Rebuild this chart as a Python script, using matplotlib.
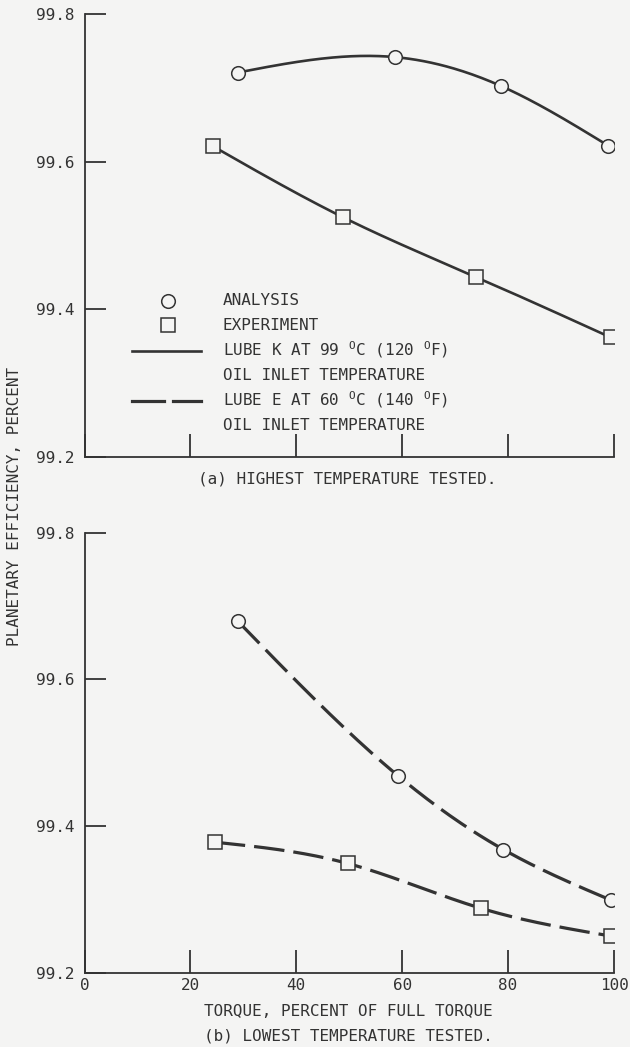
import numpy as np
import matplotlib
matplotlib.use("Agg")
import matplotlib.pyplot as plt
from matplotlib.lines import Line2D

plt.rcParams['font.family'] = ['DejaVu Sans Mono', 'DejaVu Sans']
plt.rcParams['mathtext.default'] = 'regular'
plt.rcParams['lines.scale_dashes'] = False

# ---------------- data ----------------
xticks = [0, 20, 40, 60, 80, 100]
yticks = [99.2, 99.4, 99.6, 99.8]

# (a) highest temperature tested -- lube K at 99 C
a_analysis_x = [28.9, 58.6, 78.6, 98.9]
a_analysis_y = [99.721, 99.742, 99.703, 99.622]
a_exp_x = [24.3, 48.8, 73.9, 99.4]
a_exp_y = [99.621, 99.525, 99.444, 99.362]

# (b) lowest temperature tested -- lube E at 60 C
b_analysis_x = [29.0, 59.3, 79.1, 99.4]
b_analysis_y = [99.679, 99.468, 99.368, 99.299]
b_exp_x = [24.6, 49.7, 74.8, 99.4]
b_exp_y = [99.378, 99.349, 99.288, 99.250]

ylabel = "PLANETARY EFFICIENCY, PERCENT"
xlabel = "TORQUE, PERCENT OF FULL TORQUE"
cap_a = "(a) HIGHEST TEMPERATURE TESTED."
cap_b = "(b) LOWEST TEMPERATURE TESTED."
legend_labels = ["ANALYSIS", "EXPERIMENT",
                 "LUBE K AT 99 $^O$C (120 $^O$F)", "OIL INLET TEMPERATURE",
                 "LUBE E AT 60 $^O$C (140 $^O$F)", "OIL INLET TEMPERATURE"]

# ---------------- helpers ----------------
def natural_spline(x, y, n=200):
    x = np.asarray(x, float); y = np.asarray(y, float)
    k = len(x); h = np.diff(x)
    A = np.zeros((k, k)); r = np.zeros(k)
    A[0, 0] = 1; A[-1, -1] = 1
    for i in range(1, k - 1):
        A[i, i - 1] = h[i - 1]; A[i, i] = 2 * (h[i - 1] + h[i]); A[i, i + 1] = h[i]
        r[i] = 6 * ((y[i + 1] - y[i]) / h[i] - (y[i] - y[i - 1]) / h[i - 1])
    M = np.linalg.solve(A, r)
    xs = np.linspace(x[0], x[-1], n)
    idx = np.clip(np.searchsorted(x, xs) - 1, 0, k - 2)
    x0, x1 = x[idx], x[idx + 1]; hh = x1 - x0
    t0 = x1 - xs; t1 = xs - x0
    ys = (M[idx] * t0**3 + M[idx + 1] * t1**3) / (6 * hh) \
        + (y[idx] / hh - M[idx] * hh / 6) * t0 + (y[idx + 1] / hh - M[idx + 1] * hh / 6) * t1
    return xs, ys

BG = '#f4f4f3'
INK = '#333333'
W, H = 630, 1047
fig = plt.figure(figsize=(W / 100, H / 100), dpi=100, facecolor=BG)

def px2fig(x, y):
    return x / W, 1 - y / H

x_left, x_right = 84.5, 614
axA = fig.add_axes([x_left / W, 1 - 457 / H, (x_right - x_left) / W, (457 - 14.3) / H])
axB = fig.add_axes([x_left / W, 1 - 972.7 / H, (x_right - x_left) / W, (972.7 - 532.7) / H])

solid_kw = dict(color=INK, lw=1.9, solid_capstyle='round', zorder=2)
dash_kw = dict(color=INK, lw=2.3, dashes=(22, 6.5), dash_capstyle='butt', zorder=2)
circ_kw = dict(ls='none', marker='o', ms=9.8, mfc=BG, mec=INK, mew=1.1, zorder=3)
sq_kw = dict(ls='none', marker='s', ms=9.8, mfc=BG, mec=INK, mew=1.1, zorder=3)

for ax in (axA, axB):
    ax.set_facecolor('none')
    ax.set_xlim(0, 100)
    ax.set_ylim(99.2, 99.8)
    for s in ('top', 'right'):
        ax.spines[s].set_visible(False)
    for s in ('left', 'bottom'):
        ax.spines[s].set_color(INK)
        ax.spines[s].set_linewidth(1.3)
    ax.set_yticks(yticks)
    ax.set_yticklabels([f"{v:.1f}" for v in yticks])
    ax.set_xticks(xticks)
    ax.tick_params(axis='y', direction='in', length=15, width=1.3, color=INK,
                   labelsize=11.5, labelcolor=INK, pad=7.3)
    ax.tick_params(axis='x', direction='in', length=16.5, width=1.3, color=INK,
                   labelsize=11.5, labelcolor=INK, pad=4)

axA.tick_params(axis='x', labelbottom=False)
axB.set_xticklabels([str(v) for v in xticks])

# panel (a)
xs, ys = natural_spline(a_analysis_x, a_analysis_y)
axA.plot(xs, ys, **solid_kw)
xs, ys = natural_spline(a_exp_x, a_exp_y)
axA.plot(xs, ys, **solid_kw)
axA.plot(a_analysis_x, a_analysis_y, **circ_kw)
axA.plot(a_exp_x, a_exp_y, **sq_kw)

# panel (b)
xs, ys = natural_spline(b_analysis_x, b_analysis_y)
axB.plot(xs, ys, **dash_kw)
xs, ys = natural_spline(b_exp_x, b_exp_y)
axB.plot(xs, ys, **dash_kw)
axB.plot(b_analysis_x, b_analysis_y, **circ_kw)
axB.plot(b_exp_x, b_exp_y, **sq_kw)

# legend (manual)
rows_y = [300.5, 325, 350, 375, 400, 425.5]
text_x = 223
for lab, ry in zip(legend_labels, rows_y):
    fx, fy = px2fig(text_x, ry)
    fig.text(fx, fy, lab, ha='left', va='center', fontsize=11.5, color=INK)

def fig_line(xp, yp, **kw):
    fx = [x / W for x in xp]; fy = [1 - y / H for y in yp]
    fig.add_artist(Line2D(fx, fy, transform=fig.transFigure, **kw))

fig_line([167.5], [300.5], **circ_kw)
fig_line([167.5], [325], **sq_kw)
fig_line([132, 201], [350.5, 350.5], color=INK, lw=1.9, zorder=2)
fig_line([132, 164], [400.5, 400.5], color=INK, lw=2.3, zorder=2)
fig_line([173, 201], [400.5, 400.5], color=INK, lw=2.3, zorder=2)

# captions / labels
fx, fy = px2fig(347, 478.5)
fig.text(fx, fy, cap_a, ha='center', va='center', fontsize=11.5, color=INK)
fx, fy = px2fig(348, 1011.5)
fig.text(fx, fy, xlabel, ha='center', va='center', fontsize=11.5, color=INK)
fx, fy = px2fig(348, 1036)
fig.text(fx, fy, cap_b, ha='center', va='center', fontsize=11.5, color=INK)
fx, fy = px2fig(15, 506)
fig.text(fx, fy, ylabel, ha='center', va='center', rotation=90, fontsize=11.5, color=INK)

fig.savefig("out.png", dpi=100, facecolor=BG)
